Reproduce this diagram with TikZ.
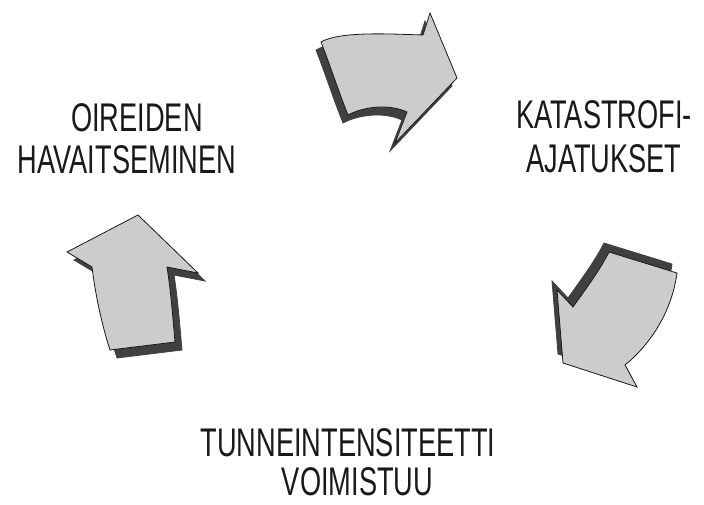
\documentclass[tikz,border=0pt]{standalone}
\usepackage{fontspec}
\newfontfamily\condfont[FakeStretch=0.68]{Liberation Sans}
\definecolor{arrowfill}{gray}{0.80}
\definecolor{arrowshadow}{gray}{0.25}
\definecolor{inkcol}{gray}{0.1}
\tikzset{
  front/.style={fill=arrowfill, draw=inkcol, line width=0.8pt, line join=miter},
  backshade/.style={fill=arrowshadow, draw=arrowshadow, line width=0.8pt},
  label/.style={font=\condfont\fontsize{40}{40}\selectfont, text=inkcol, anchor=base, inner sep=0pt, align=center},
  arrA/.style={insert path={(321,42) .. controls (340,31) and (390,34) .. (423,35) -- (430,13) -- (457,78) -- (395,143) -- (407,112) .. controls (390,104) and (365,106) .. (348,115) .. controls (338,90) and (330,65) .. (321,42) -- cycle}},
  arrB/.style={insert path={(609,252) -- (677,273) .. controls (672,310) and (652,343) .. (625,365) -- (637,387) -- (563,363) -- (557,290) -- (573,307) .. controls (585,290) and (600,270) .. (609,252) -- cycle}},
  arrC/.style={insert path={(138,215) -- (198,273) -- (167,267) .. controls (171,292) and (173,320) .. (175,342) -- (110,350) .. controls (101,322) and (95,292) .. (92,267) -- (67,252) -- cycle}},
}
\begin{document}
\begin{tikzpicture}[x=1pt,y=-1pt]
\useasboundingbox (0,0) rectangle (704,504);
\fill[white] (0,0) rectangle (704,504);
% top arrow
\path[backshade, shift={(-5,8)}, arrA];
\path[front, arrA];
% right arrow
\path[backshade, shift={(-5,-9)}, arrB];
\path[front, arrB];
% left arrow
\path[backshade, shift={(7,8)}, arrC];
\path[front, arrC];
% labels (anchor base = baseline of the last line)
\node[label] (l1) at (127,173) {\hspace*{20pt}OIREIDEN\\[2pt]HAVAITSEMINEN};
\node[label] (l2) at (604,172) {KATASTROFI-\\[4pt]AJATUKSET};
\node[label] (l3) at (348,495) {TUNNEINTENSITEETTI\\[-1pt]\hspace*{19pt}VOIMISTUU};
\end{tikzpicture}
\end{document}
